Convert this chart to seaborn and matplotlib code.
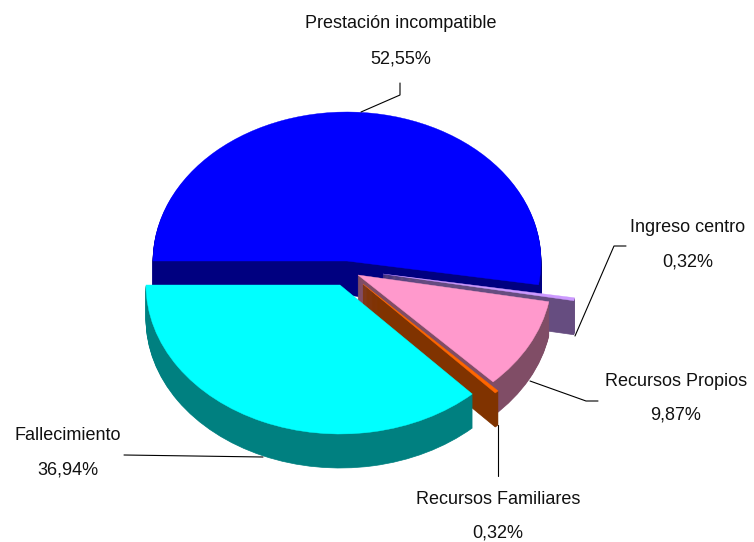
import matplotlib
matplotlib.use('Agg')
import matplotlib.pyplot as plt
from matplotlib.patches import Wedge
from matplotlib.colors import to_rgb
import numpy as np
import seaborn as sns

labels = ['Prestación incompatible', 'Ingreso centro', 'Recursos Propios',
          'Recursos Familiares', 'Fallecimiento']
values = [52.55, 0.32, 9.87, 0.32, 36.94]
colors = ['#0000FF', '#CC99FF', '#FF99CC', '#FF6600', '#00FFFF']

W, H = 754, 542
SQUASH = 0.768
RADIUS = 194
DEPTH = 34

# where each slice's apex sits in the picture, in pixels
apex = [(347, 261), (383, 274), (358, 275), (363, 284), (340, 285)]
label_pos = [(401, 24), (688, 228), (676, 382), (498, 499), (68, 436)]
value_pos = [(401, 59), (688, 262), (676, 415), (498, 533), (68, 470)]
leaders = [
    [(361, 112), (400, 95), (400, 83)],
    [(575, 336), (614, 246), (626, 246)],
    [(530, 381), (586, 401), (598, 401)],
    [(498, 425), (498, 476)],
    [(124, 455), (263, 457)],
]

sns.set_theme(style='white')
plt.rcParams['font.family'] = ['Liberation Sans', 'DejaVu Sans']


def py(y):
    # pixel row to data y, the y axis is stretched so circles come out flat
    return (H - y) / SQUASH


fig = plt.figure(figsize=(W / 100, H / 100), dpi=100)
ax = fig.add_axes([0, 0, 1, 1])
ax.set_xlim(0, W)
ax.set_ylim(0, H / SQUASH)
ax.axis('off')

# slices run clockwise from the left edge
ends = 180 - np.cumsum(values) / 100 * 360
starts = np.concatenate([[180], ends[:-1]])

for v, c, (cx, cy), t1, t2 in zip(values, colors, apex, starts, ends):
    dark = tuple(np.array(to_rgb(c)) * 0.5)
    for d in range(DEPTH, 0, -1):
        ax.add_patch(Wedge((cx, py(cy + d)), RADIUS, t2, t1, fc=dark, ec=dark, lw=0.5))
    ax.add_patch(Wedge((cx, py(cy)), RADIUS, t2, t1, fc=c, ec=c, lw=0.3))

for pts in leaders:
    xs = [p[0] for p in pts]
    ys = [py(p[1]) for p in pts]
    ax.plot(xs, ys, color='black', lw=0.8, solid_joinstyle='miter')

for name, v, (lx, ly), (vx, vy) in zip(labels, values, label_pos, value_pos):
    ax.text(lx, py(ly), name, ha='center', va='center', fontsize=13, color='#111111')
    ax.text(vx, py(vy), f'{v:.2f}%'.replace('.', ','), ha='center', va='center',
            fontsize=13, color='#111111')

fig.savefig('out.png', dpi=100)
